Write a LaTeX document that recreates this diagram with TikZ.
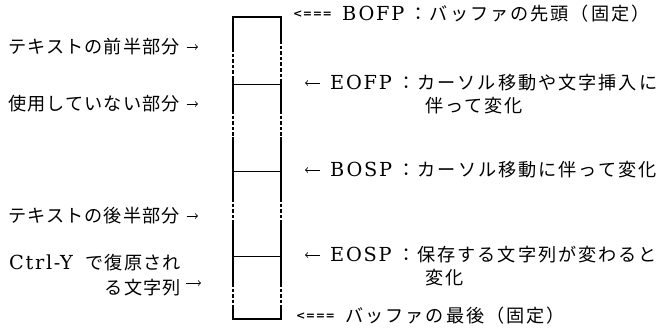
\documentclass[tikz,border=0pt]{standalone}
\usepackage{fontspec}
\usepackage{tikz}

\newfontfamily\jpfont[LetterSpace=6]{Noto Sans CJK JP}
\newfontfamily\jpwide[LetterSpace=11]{Noto Sans CJK JP}
\newfontfamily\latfont[LetterSpace=9]{DejaVu Serif}
\newfontfamily\markfont[LetterSpace=4]{DejaVu Sans}
\newcommand\lattext[1]{{\fontsize{16.5}{21}\selectfont\latfont #1}}

\tikzset{
	lbl/.style={inner sep=0pt, font=\fontsize{15.5}{21}\selectfont\jpfont},
	rlbl/.style={inner sep=0pt, font=\fontsize{15.5}{21}\selectfont\jpwide},
	eqarrow/.style={inner sep=0pt, font=\fontsize{9.5}{11}\selectfont\markfont\bfseries},
	side/.style={line width=1.2pt},
	gap/.style={line width=1pt, dash pattern=on 3pt off 1.8pt},
	ptr/.style={->, line width=0.75pt, shorten <=0.2cm},
}

\begin{document}
\begin{tikzpicture}[x=0.03cm, y=-0.03cm]
	
	\useasboundingbox (0,0) rectangle (670,329);
	
	% buffer box
	\draw[side] (232,17) -- (282,17);
	\draw[side] (232,319) -- (282,319);
	\draw[line width=0.8pt] (233,84) -- (281,84);
	\draw[line width=0.8pt] (233,171) -- (281,171);
	\draw[line width=0.8pt] (233,256) -- (281,256);
	\draw[side] (233,17) -- (233,48) (233,80) -- (233,110) (233,137) -- (233,198) (233,223) -- (233,283) (233,305) -- (233,319);
	\draw[gap] (233,48) -- (233,80) (233,110) -- (233,137) (233,198) -- (233,223) (233,283) -- (233,305);
	\draw[side] (281,17) -- (281,40) (281,80) -- (281,110) (281,137) -- (281,198) (281,223) -- (281,283) (281,305) -- (281,319);
	\draw[gap] (281,40) -- (281,80) (281,110) -- (281,137) (281,198) -- (281,223) (281,283) -- (281,305);
	
	% left side
	\node[lbl, anchor=east] (front) at (180,47) {テキストの前半部分};
	\node[lbl, anchor=east] (unused) at (180,104) {使用していない部分};
	\node[lbl, anchor=east] (back) at (180,216) {テキストの後半部分};
	\node[lbl, anchor=east, align=right] (yank) at (181,275) {\lattext{Ctrl-Y}\hspace{0.7em}で復原され\\る文字列};
	
	\coordinate (frontTip) at (198,47);
	\coordinate (unusedTip) at (198,104);
	\coordinate (backTip) at (198,216);
	\coordinate (yankTip) at (201,283);
	
	\path[ptr] (front) edge (frontTip);
	\path[ptr] (unused) edge (unusedTip);
	\path[ptr] (back) edge (backTip);
	\path[ptr, shorten <=0.15cm] (yankTip -| yank.east) edge (yankTip);
	
	% right side
	\node[eqarrow, anchor=west] (bofpMark) at (293,14) {<===};
	\node[rlbl, anchor=west] (bofp) at (342,14) {\lattext{BOFP}\hspace{0.3em}：バッファの先頭（固定）};
	\node[rlbl, anchor=west] (eofp) at (330,83) {\lattext{EOFP}\hspace{0.3em}：カーソル移動や文字挿入に};
	\node[rlbl, anchor=west] (eofpMore) at (425,106) {伴って変化};
	\node[rlbl, anchor=west] (bosp) at (330,170) {\lattext{BOSP}\hspace{0.3em}：カーソル移動に伴って変化};
	\node[rlbl, anchor=west] (eosp) at (330,255) {\lattext{EOSP}\hspace{0.3em}：保存する文字列が変わると};
	\node[rlbl, anchor=west] (eospMore) at (425,278) {変化};
	\node[eqarrow, anchor=west] (endMark) at (296,316) {<===};
	\node[rlbl, anchor=west] (bufend) at (345,316) {バッファの最後（固定）};
	
	\coordinate (eofpTip) at (305,83);
	\coordinate (bospTip) at (305,170);
	\coordinate (eospTip) at (305,255);
	
	\path[ptr, shorten <=0.3cm] (eofp) edge (eofpTip);
	\path[ptr, shorten <=0.3cm] (bosp) edge (bospTip);
	\path[ptr, shorten <=0.3cm] (eosp) edge (eospTip);
	
\end{tikzpicture}
\end{document}
